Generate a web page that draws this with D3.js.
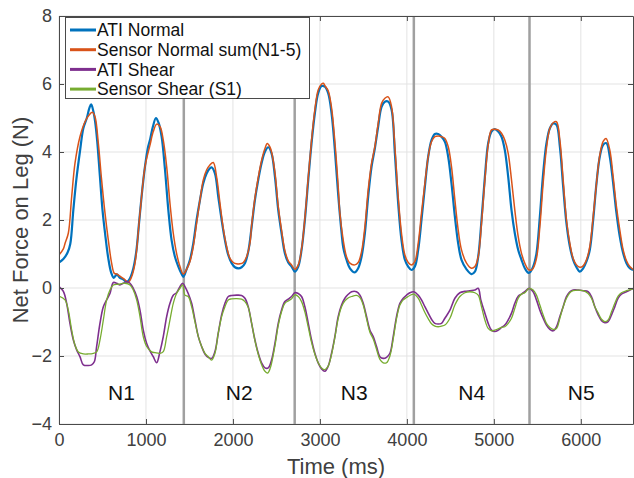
<!DOCTYPE html>
<html><head><meta charset="utf-8">
<script src="https://cdn.jsdelivr.net/npm/d3@7"></script>
<style>
body{margin:0;background:#fff}
svg{display:block}
text{font-family:"Liberation Sans",Arial,Helvetica,sans-serif}
</style>
</head><body>
<svg id="chart" width="634" height="478"></svg>
<script>
// ---------------- data ----------------
const xTicks = [0, 1000, 2000, 3000, 4000, 5000, 6000];
const yTicks = [-4, -2, 0, 2, 4, 6, 8];
const xDomain = [0, 6600];
const yDomain = [-4, 8];
const seriesNames = ["ATI Normal", "Sensor Normal sum(N1-5)", "ATI Shear", "Sensor Shear (S1)"];
const separators = [1435, 2710, 4080, 5410];
const sectionLabels = ["N1", "N2", "N3", "N4", "N5"];

const atiNormal = [[0,0.75],[50,0.85],[100,1.05],[130,1.3],[165,2.3],[200,3.2],[240,4.0],[280,4.7],[320,5.0],[350,5.3],[370,5.4],[395,5.2],[415,4.9],[440,4.3],[470,3.3],[500,2.3],[530,1.6],[565,0.9],[600,0.45],[630,0.3],[665,0.4],[700,0.3],[740,0.25],[780,0.18],[815,0.28],[855,0.58],[890,1.1],[920,1.9],[950,2.7],[985,3.5],[1020,4.1],[1050,4.4],[1080,4.75],[1115,5.0],[1145,4.86],[1180,4.45],[1218,3.5],[1257,2.3],[1295,1.4],[1333,0.92],[1372,0.63],[1410,0.41],[1430,0.33],[1467,0.55],[1506,0.83],[1544,1.31],[1582,2.0],[1621,2.59],[1659,3.08],[1697,3.37],[1735,3.52],[1755,3.55],[1793,3.37],[1831,2.69],[1870,2.0],[1908,1.41],[1946,0.97],[1985,0.73],[2023,0.61],[2061,0.58],[2100,0.61],[2138,0.73],[2176,1.07],[2215,1.8],[2253,2.59],[2291,3.18],[2329,3.67],[2368,4.01],[2406,4.14],[2444,3.96],[2483,3.27],[2521,2.29],[2559,1.61],[2597,1.02],[2636,0.75],[2674,0.63],[2712,0.48],[2751,0.63],[2789,1.12],[2827,2.0],[2866,3.18],[2904,4.26],[2942,5.14],[2980,5.73],[3019,5.94],[3057,5.92],[3095,5.73],[3134,5.14],[3172,4.06],[3210,2.75],[3250,1.6],[3268,1.2],[3306,0.83],[3345,0.58],[3402,0.46],[3440,0.58],[3479,0.92],[3517,1.61],[3555,2.69],[3594,3.57],[3632,4.11],[3670,4.75],[3709,5.33],[3747,5.48],[3785,5.48],[3824,5.24],[3862,3.96],[3900,2.49],[3938,1.41],[3977,0.83],[4015,0.63],[4053,0.53],[4092,0.63],[4130,1.12],[4168,2.0],[4207,2.98],[4245,3.86],[4283,4.35],[4322,4.53],[4360,4.53],[4398,4.45],[4437,4.3],[4475,3.86],[4513,3.08],[4552,2.1],[4590,1.31],[4628,0.83],[4686,0.55],[4743,0.41],[4782,0.48],[4820,0.92],[4858,2.0],[4897,3.27],[4935,4.26],[4973,4.6],[5011,4.67],[5050,4.6],[5088,4.45],[5126,4.06],[5165,3.27],[5203,2.29],[5241,1.61],[5280,1.12],[5318,0.83],[5356,0.58],[5394,0.45],[5414,0.46],[5452,0.63],[5490,1.02],[5529,2.1],[5567,3.37],[5605,4.26],[5644,4.7],[5682,4.84],[5720,4.8],[5759,4.16],[5797,2.98],[5835,1.9],[5874,1.22],[5912,0.83],[5950,0.61],[5989,0.48],[6027,0.58],[6065,0.78],[6103,1.12],[6142,2.0],[6180,3.08],[6218,3.86],[6257,4.21],[6295,4.26],[6333,3.86],[6372,3.08],[6410,2.2],[6448,1.51],[6487,1.02],[6525,0.73],[6563,0.58],[6600,0.53]];

const sensorNormal = [[0,0.97],[50,1.15],[69,1.31],[107,1.61],[146,2.69],[184,3.67],[241,4.45],[299,4.89],[356,5.12],[383,5.17],[414,5.04],[452,4.26],[490,3.18],[529,2.2],[567,1.41],[605,0.73],[636,0.43],[663,0.41],[701,0.35],[759,0.24],[797,0.17],[835,0.33],[874,0.73],[931,2.2],[989,3.57],[1046,4.2],[1084,4.6],[1123,4.82],[1161,4.75],[1199,4.35],[1238,3.57],[1276,2.49],[1314,1.61],[1352,1.02],[1391,0.63],[1429,0.41],[1467,0.55],[1506,0.78],[1544,1.22],[1582,1.9],[1621,2.59],[1659,3.18],[1697,3.47],[1735,3.62],[1774,3.69],[1812,3.27],[1851,2.49],[1889,1.75],[1927,1.22],[1966,0.87],[2004,0.75],[2042,0.71],[2080,0.71],[2119,0.75],[2157,0.92],[2195,1.31],[2215,1.85],[2253,2.65],[2291,3.25],[2329,3.75],[2368,4.1],[2395,4.25],[2425,4.15],[2444,4.0],[2483,3.4],[2521,2.4],[2559,1.7],[2597,1.1],[2636,0.8],[2674,0.68],[2712,0.55],[2751,0.68],[2789,1.15],[2827,2.05],[2866,3.25],[2904,4.35],[2942,5.25],[2980,5.82],[3019,6.0],[3040,6.02],[3057,5.95],[3095,5.8],[3134,5.3],[3172,4.3],[3210,3.0],[3230,2.2],[3268,1.41],[3306,0.92],[3345,0.73],[3402,0.68],[3440,0.75],[3479,1.07],[3517,1.8],[3555,2.88],[3594,3.67],[3632,4.16],[3670,4.84],[3709,5.43],[3747,5.58],[3785,5.62],[3824,5.33],[3862,4.16],[3900,2.69],[3938,1.61],[3977,0.97],[4015,0.75],[4053,0.68],[4092,0.78],[4130,1.31],[4168,2.2],[4207,3.08],[4245,3.86],[4283,4.3],[4322,4.45],[4360,4.47],[4398,4.45],[4437,4.4],[4475,4.16],[4513,3.57],[4552,2.59],[4590,1.71],[4628,1.12],[4686,0.73],[4743,0.58],[4782,0.63],[4820,0.92],[4858,1.9],[4897,3.18],[4935,4.21],[4973,4.65],[5011,4.67],[5050,4.65],[5088,4.55],[5126,4.35],[5165,3.96],[5203,3.18],[5241,2.29],[5280,1.51],[5318,1.02],[5356,0.73],[5394,0.55],[5433,0.53],[5452,0.58],[5490,0.87],[5529,1.8],[5567,3.08],[5605,4.11],[5644,4.7],[5682,4.86],[5720,4.89],[5759,4.35],[5797,3.18],[5835,2.0],[5874,1.31],[5912,0.87],[5950,0.68],[5989,0.61],[6027,0.65],[6065,0.83],[6103,1.22],[6142,2.1],[6180,3.08],[6218,3.91],[6257,4.31],[6290,4.4],[6333,4.06],[6372,3.27],[6410,2.39],[6448,1.71],[6487,1.12],[6525,0.8],[6563,0.63],[6600,0.55]];

const atiShear = [[0,0.04],[50,-0.1],[88,-0.45],[126,-1.04],[165,-1.53],[203,-1.82],[241,-2.02],[280,-2.26],[337,-2.28],[375,-2.26],[406,-2.17],[433,-1.72],[471,-1.04],[510,-0.55],[548,-0.35],[586,-0.16],[625,0.16],[663,0.14],[701,0.09],[739,0.14],[778,0.19],[816,0.14],[854,-0.01],[893,-0.25],[931,-0.65],[969,-1.24],[1008,-1.63],[1046,-1.85],[1084,-2.02],[1123,-2.2],[1161,-1.87],[1199,-1.43],[1238,-0.84],[1276,-0.45],[1314,-0.21],[1352,-0.14],[1391,0.04],[1421,0.14],[1448,0.04],[1486,-0.16],[1525,-0.45],[1563,-0.94],[1602,-1.43],[1640,-1.72],[1678,-1.94],[1716,-2.04],[1755,-2.07],[1793,-1.87],[1831,-1.33],[1870,-0.79],[1908,-0.45],[1946,-0.25],[1985,-0.22],[2042,-0.21],[2100,-0.22],[2138,-0.3],[2176,-0.55],[2215,-1.04],[2253,-1.53],[2291,-1.92],[2329,-2.2],[2368,-2.35],[2406,-2.35],[2444,-2.12],[2483,-1.63],[2521,-1.04],[2559,-0.65],[2597,-0.4],[2636,-0.33],[2674,-0.25],[2712,-0.14],[2751,-0.16],[2789,-0.25],[2827,-0.55],[2866,-1.04],[2904,-1.53],[2942,-1.92],[2980,-2.2],[3019,-2.38],[3057,-2.45],[3095,-2.3],[3134,-1.92],[3172,-1.43],[3210,-0.84],[3249,-0.5],[3287,-0.3],[3320,-0.2],[3364,-0.11],[3421,-0.11],[3460,-0.21],[3498,-0.45],[3536,-0.84],[3575,-1.24],[3613,-1.43],[3651,-1.72],[3690,-2.02],[3728,-2.07],[3766,-2.04],[3805,-1.92],[3843,-1.43],[3881,-0.84],[3920,-0.45],[3958,-0.3],[3996,-0.21],[4034,-0.14],[4080,-0.11],[4130,-0.21],[4168,-0.35],[4207,-0.55],[4245,-0.74],[4283,-0.92],[4322,-1.04],[4360,-1.06],[4398,-1.04],[4437,-0.89],[4495,-0.65],[4552,-0.3],[4609,-0.14],[4667,-0.1],[4724,-0.08],[4782,-0.06],[4820,-0.01],[4850,-0.35],[4897,-0.74],[4935,-1.04],[4973,-1.24],[5011,-1.28],[5050,-1.24],[5088,-1.16],[5126,-1.09],[5165,-0.94],[5203,-0.74],[5241,-0.45],[5280,-0.24],[5318,-0.18],[5356,-0.11],[5406,-0.01],[5452,-0.11],[5490,-0.35],[5529,-0.65],[5567,-0.89],[5605,-1.09],[5644,-1.22],[5682,-1.26],[5720,-1.14],[5759,-0.84],[5797,-0.55],[5835,-0.25],[5874,-0.11],[5912,-0.06],[5970,-0.06],[6027,-0.08],[6084,-0.11],[6122,-0.25],[6161,-0.55],[6200,-0.79],[6238,-0.96],[6276,-1.02],[6314,-0.99],[6353,-0.79],[6391,-0.55],[6429,-0.3],[6467,-0.18],[6525,-0.11],[6582,-0.04],[6600,-0.02]];

const sensorShear = [[0,-0.24],[69,-0.35],[107,-0.65],[146,-1.24],[184,-1.68],[222,-1.88],[280,-1.94],[337,-1.94],[395,-1.92],[433,-1.88],[471,-1.53],[510,-0.94],[548,-0.35],[586,-0.06],[625,0.09],[682,0.11],[759,0.14],[816,0.09],[854,-0.06],[893,-0.35],[931,-0.84],[969,-1.43],[1008,-1.72],[1065,-1.88],[1103,-1.9],[1161,-1.92],[1199,-1.87],[1238,-1.43],[1276,-0.94],[1314,-0.45],[1352,-0.16],[1391,-0.01],[1421,0.09],[1448,-0.21],[1486,-0.25],[1525,-0.55],[1563,-0.99],[1602,-1.43],[1640,-1.72],[1678,-1.92],[1716,-2.02],[1755,-2.12],[1793,-1.92],[1831,-1.33],[1870,-0.84],[1908,-0.55],[1946,-0.35],[1985,-0.32],[2042,-0.31],[2100,-0.33],[2138,-0.4],[2176,-0.57],[2215,-1.04],[2253,-1.55],[2291,-1.95],[2329,-2.25],[2368,-2.45],[2400,-2.5],[2430,-2.35],[2483,-1.7],[2521,-1.1],[2559,-0.7],[2597,-0.45],[2636,-0.38],[2674,-0.32],[2712,-0.2],[2751,-0.25],[2789,-0.4],[2827,-0.7],[2866,-1.15],[2904,-1.6],[2942,-1.95],[2980,-2.2],[3019,-2.35],[3057,-2.4],[3095,-2.3],[3134,-1.95],[3172,-1.45],[3210,-0.9],[3249,-0.55],[3287,-0.38],[3320,-0.3],[3364,-0.25],[3421,-0.22],[3460,-0.28],[3498,-0.5],[3536,-0.9],[3575,-1.3],[3613,-1.5],[3651,-1.8],[3690,-2.1],[3728,-2.2],[3766,-2.2],[3805,-2.0],[3843,-1.5],[3881,-0.9],[3920,-0.5],[3958,-0.35],[3996,-0.28],[4034,-0.22],[4080,-0.18],[4130,-0.3],[4168,-0.5],[4207,-0.72],[4245,-0.9],[4283,-1.05],[4322,-1.12],[4360,-1.14],[4398,-1.12],[4437,-1.09],[4495,-0.89],[4552,-0.5],[4609,-0.25],[4667,-0.14],[4724,-0.11],[4782,-0.14],[4820,-0.21],[4858,-0.55],[4897,-0.94],[4935,-1.19],[4973,-1.26],[5011,-1.24],[5050,-1.2],[5088,-1.16],[5126,-1.14],[5165,-1.04],[5203,-0.89],[5241,-0.6],[5280,-0.3],[5318,-0.18],[5356,-0.14],[5406,-0.01],[5452,-0.06],[5490,-0.21],[5529,-0.5],[5567,-0.79],[5605,-1.04],[5644,-1.16],[5682,-1.22],[5720,-1.19],[5759,-0.89],[5797,-0.55],[5835,-0.3],[5874,-0.14],[5912,-0.08],[5970,-0.06],[6027,-0.08],[6084,-0.16],[6122,-0.3],[6161,-0.55],[6200,-0.74],[6238,-0.92],[6276,-0.99],[6314,-0.94],[6353,-0.7],[6391,-0.45],[6429,-0.24],[6467,-0.14],[6525,-0.08],[6582,-0.04],[6600,-0.01]];

const seriesData = [atiNormal, sensorNormal, atiShear, sensorShear];

// ---------------- styles / layout ----------------
const colors = ["#0072BD", "#D95319", "#7E2F8E", "#77AC30"];
const widths = [2.2, 1.5, 1.6, 1.3];
const M = {left: 59, right: 633, top: 16, bottom: 424};
const axisColor = "#4a4a4a";
const textColor = "#404040";

const svg = d3.select("#chart");
const x = d3.scaleLinear().domain(xDomain).range([M.left, M.right]);
const y = d3.scaleLinear().domain(yDomain).range([M.bottom, M.top]);

// grid
const grid = svg.append("g");
grid.selectAll(".gx").data(xTicks).join("line")
  .attr("x1", d => x(d)).attr("x2", d => x(d)).attr("y1", M.top).attr("y2", M.bottom)
  .attr("stroke", "#e3e3e3").attr("stroke-width", 1);
grid.selectAll(".gy").data(yTicks).join("line")
  .attr("y1", d => y(d)).attr("y2", d => y(d)).attr("x1", M.left).attr("x2", M.right)
  .attr("stroke", "#e3e3e3").attr("stroke-width", 1);

svg.append("clipPath").attr("id", "clip").append("rect")
  .attr("x", M.left).attr("y", M.top).attr("width", M.right - M.left).attr("height", M.bottom - M.top);

// separators
svg.append("g").selectAll("line").data(separators).join("line")
  .attr("x1", d => x(d)).attr("x2", d => x(d)).attr("y1", M.top).attr("y2", M.bottom)
  .attr("stroke", "#a0a0a0").attr("stroke-width", 2.5);

// series
const line = d3.line().x(d => x(d[0])).y(d => y(d[1])).curve(d3.curveCatmullRom.alpha(0.5));
const plot = svg.append("g").attr("clip-path", "url(#clip)");
seriesData.forEach((s, i) => {
  plot.append("path").datum(s).attr("d", line).attr("fill", "none")
    .attr("stroke", colors[i]).attr("stroke-width", widths[i]).attr("stroke-linejoin", "round");
});

// section labels
const edges = [xDomain[0], ...separators, xDomain[1]];
svg.append("g").selectAll("text").data(sectionLabels).join("text")
  .attr("x", (d, i) => x((edges[i] + edges[i + 1]) / 2))
  .attr("y", y(-3.3))
  .attr("text-anchor", "middle").attr("font-size", 21).attr("fill", "#111")
  .text(d => d);

// axes
function styleAxis(g) {
  g.select(".domain").attr("stroke", axisColor).attr("stroke-width", 1);
  g.selectAll(".tick line").attr("stroke", axisColor);
  g.selectAll(".tick text").attr("fill", textColor).attr("font-size", 18)
    .attr("font-family", '"Liberation Sans", Arial, sans-serif');
}
svg.append("g").attr("transform", `translate(0,${M.bottom})`)
  .call(d3.axisBottom(x).tickValues(xTicks).tickFormat(d3.format("d")).tickSizeInner(-5).tickSizeOuter(0).tickPadding(9))
  .call(styleAxis);
svg.append("g").attr("transform", `translate(${M.left},0)`)
  .call(d3.axisLeft(y).tickValues(yTicks).tickFormat(d3.format("d")).tickSizeInner(-5).tickSizeOuter(0).tickPadding(7))
  .call(styleAxis);
svg.append("g").attr("transform", `translate(0,${M.top})`)
  .call(d3.axisTop(x).tickValues(xTicks).tickSizeInner(-5).tickSizeOuter(0).tickFormat(""))
  .call(styleAxis);
svg.append("g").attr("transform", `translate(${M.right},0)`)
  .call(d3.axisRight(y).tickValues(yTicks).tickSizeInner(-5).tickSizeOuter(0).tickFormat(""))
  .call(styleAxis);

// axis labels
svg.append("text").attr("x", 336).attr("y", 474).attr("text-anchor", "middle")
  .attr("font-size", 22).attr("fill", textColor).text("Time (ms)");
svg.append("text").attr("transform", `translate(28,${(M.top + M.bottom) / 2}) rotate(-90)`)
  .attr("text-anchor", "middle").attr("font-size", 22).attr("fill", textColor)
  .text("Net Force on Leg (N)");

// legend
const lg = svg.append("g");
lg.append("rect").attr("x", 65.5).attr("y", 17.5).attr("width", 244).attr("height", 81)
  .attr("fill", "#fff").attr("stroke", axisColor).attr("stroke-width", 1);
seriesNames.forEach((n, i) => {
  const yy = 30 + i * 19.7;
  lg.append("line").attr("x1", 70).attr("x2", 96).attr("y1", yy).attr("y2", yy)
    .attr("stroke", colors[i]).attr("stroke-width", 3);
  lg.append("text").attr("x", 97).attr("y", yy).attr("dy", "0.35em")
    .attr("font-size", 17.5).attr("fill", "#111").text(n);
});
</script>
</body></html>
